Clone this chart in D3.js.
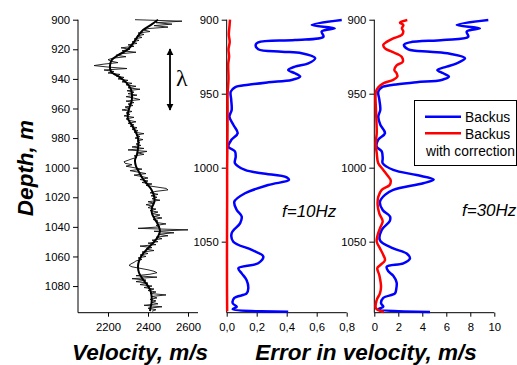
<!DOCTYPE html>
<html><head><meta charset="utf-8">
<script src="https://cdn.jsdelivr.net/npm/d3@7"></script>
<style>body{margin:0;background:#fff}svg{display:block}</style>
</head><body>
<script>
// ---------- data ----------
const depthDomain = [900, 1098];
const leftDepthTicks = [900,920,940,960,980,1000,1020,1040,1060,1080];
const errDepthTicks = [900,950,1000,1050];
const velTicks = [2200,2400,2600];
const err10Ticks = [0,0.2,0.4,0.6,0.8];
const err30Ticks = [0,2,4,6,8,10];

// raw velocity log, one sample per metre from 900 m
const rawVelocity = [
2335,2570,2440,2520,2430,2500,2400,2380,2410,2350,2380,2345,2370,2330,2355,2320,2345,2300,2330,2265,
2310,2270,2340,2265,2240,2290,2225,2200,2215,2250,2180,2130,2200,2295,2180,2230,2200,2260,2240,2280,
2250,2300,2270,2320,2290,2340,2300,2360,2295,2330,2300,2345,2290,2330,2360,2290,2330,2300,2325,2285,
2310,2270,2320,2290,2310,2280,2330,2290,2305,2340,2300,2330,2310,2345,2320,2350,2330,2380,2340,2360,
2335,2375,2345,2360,2340,2365,2320,2380,2300,2395,2350,2380,2330,2345,2320,2300,2280,2285,2320,2290,
2330,2370,2310,2350,2390,2330,2370,2400,2360,2400,2370,2420,2390,2440,2490,2500,2440,2410,2450,2415,
2445,2420,2460,2400,2430,2390,2420,2400,2440,2410,2450,2420,2460,2430,2470,2425,2450,2440,2490,2440,
2460,2350,2600,2430,2530,2450,2500,2440,2470,2420,2450,2400,2440,2360,2420,2390,2430,2370,2400,2360,
2390,2350,2370,2340,2330,2315,2305,2320,2360,2400,2430,2445,2410,2340,2445,2320,2390,2340,2400,2360,
2420,2380,2430,2400,2440,2410,2490,2420,2445,2410,2440,2420,2450,2380,2470,2400,2440,2420];
const rawDepth = d3.range(900, 900 + rawVelocity.length);

const smoothDepth = [900,903,907,911,915,920,924,927,931,935,939,943,947,951,955,959,963,967,971,975,979,983,987,991,995,999,1003,1007,1011,1015,1019,1023,1027,1031,1035,1039,1043,1047,1051,1055,1059,1063,1067,1071,1075,1079,1083,1087,1091,1095,1097];
const smoothVelocity = [2450,2420,2375,2350,2330,2300,2250,2220,2210,2215,2260,2295,2315,2320,2318,2308,2300,2300,2318,2335,2348,2352,2350,2345,2335,2340,2355,2372,2395,2418,2430,2432,2420,2420,2435,2452,2460,2448,2425,2395,2370,2355,2350,2355,2372,2395,2412,2418,2418,2412,2410];

// f = 10 Hz
const e10Depth = [900.2,903.6,905.8,908,911.5,913.7,915.3,917,920,921.6,922.7,926,929.5,931.7,934,936.2,938.5,940.7,942.3,944,945.7,948.6,954,961,965.5,971,976.7,981,985.8,989,992.6,997,1001.5,1003.8,1006.5,1008.3,1011.7,1017.3,1023,1028.6,1033,1037.6,1044.3,1050,1055.6,1060,1064.6,1068,1071.4,1076,1081.5,1085,1088,1091.6,1094,1095.6,1097.4];
const e10Backus = [0.767,0.567,0.72,0.633,0.645,0.455,0.21,0.193,0.21,0.367,0.5,0.59,0.544,0.455,0.41,0.455,0.49,0.433,0.277,0.144,0.055,0.027,0.03,0.033,0.018,0.044,0.073,0.033,0.011,0.055,0.06,0.055,0.122,0.233,0.40,0.415,0.277,0.122,0.051,0.067,0.1,0.089,0.033,0.044,0.167,0.244,0.21,0.078,0.1,0.133,0.144,0.133,0.051,0.04,0.067,0.04,0.41];
const e10CorrDepth = [900,905,910,915,920,925,930,940,950,960,980,1000,1020,1050,1080,1097];
const e10Corr = [0.022,0.018,0.014,0.02,0.012,0.016,0.01,0.012,0.006,0.006,0.005,0.003,0.003,0.002,0.002,0.003];

// f = 30 Hz
const e30Depth = [900.2,903.6,905.8,908,911.5,913.7,915.3,917,920,921.6,923,926,929.5,931.7,934,936.2,938.5,940.7,942.3,944,945.7,948.6,954,961,965.5,971,976.7,981,985.8,989,993.7,997,1001.5,1005,1008,1010.5,1015,1018.4,1023,1028.6,1033,1036.2,1042,1049,1054.5,1058,1061.4,1064.6,1067,1070,1073,1077.6,1082,1085,1088,1091.6,1094,1095.7,1097.5];
const e30Backus = [9.5,6.87,8.8,7.7,7.83,5.75,2.97,2.47,2.83,4.64,6.3,7.56,6.87,6.03,5.25,5.75,6.22,5.61,3.53,1.58,0.62,0.33,0.42,0.5,0.33,0.5,0.89,0.33,0.2,0.62,0.7,0.7,1.58,3.53,4.95,4.08,1.58,0.89,0.47,0.7,1.31,1.28,0.62,0.47,1.58,2.7,2.97,2.42,1.03,1.17,1.58,1.86,1.83,1.72,0.75,0.56,0.75,0.33,4.64];
const e30CorrDepth = [900.2,902,903.6,905.8,908,910.3,912.6,915,917,919.4,921.6,925,928.6,930.8,934,936.2,938.5,940.7,943,945.7,948.6,952,961,976.7,983.5,990,997,1001.5,1006,1008.3,1011.7,1015,1019.7,1025.3,1031,1036.2,1041,1045.5,1050,1054.5,1059,1062.5,1066,1068,1072.7,1080.6,1085,1089.4,1095,1097.5];
const e30Corr = [2.75,2.14,2.42,2.3,2.42,2.3,1.58,1.03,0.75,0.89,1.45,2.28,2.36,1.86,1.67,1.86,1.92,1.58,0.75,0.33,0.14,0.1,0.14,0.2,0.12,0.2,0.33,0.75,1.17,1.36,1.28,0.62,0.33,0.28,0.42,0.7,0.47,0.28,0.2,0.47,0.75,0.89,0.47,0.25,0.42,0.56,0.47,0.2,0.14,0.8];

const legendLabels = ["Backus", "Backus", "with correction"];

// ---------- drawing ----------
const W = 517, H = 365;
const svg = d3.select("body").append("svg").attr("width", W).attr("height", H)
  .style("font-family", "'Liberation Sans', Arial, sans-serif");

const y = d3.scaleLinear().domain(depthDomain).range([19.7, 312.7]);
const yBottom = 312.7;

const xVel = d3.scaleLinear().domain([2050, 2650]).range([78, 198]);
const x10 = d3.scaleLinear().domain([0, 0.8]).range([226.7, 346.7]);
const x30 = d3.scaleLinear().domain([0, 10]).range([374.3, 494.3]);

function yAxis(x0, majors, minors) {
  const g = svg.append("g").attr("transform", `translate(${x0},0)`);
  g.call(d3.axisLeft(y).tickValues(minors).tickSize(3).tickFormat(""));
  g.call(d3.axisLeft(y).tickValues(majors).tickSize(5).tickPadding(3).tickFormat(d3.format("d")));
  g.selectAll("path.domain").remove();
  g.append("line").attr("x1", 0).attr("x2", 0).attr("y1", y(900)).attr("y2", yBottom).attr("stroke", "#000");
  g.selectAll("text").attr("font-size", 11.3).attr("fill", "#000").style("font-family", "'Liberation Sans', Arial, sans-serif");
  g.selectAll(".tick line").attr("stroke", "#000");
}
function xAxis(sc, majors, minors, fmt) {
  const g = svg.append("g").attr("transform", `translate(0,${yBottom})`);
  g.call(d3.axisBottom(sc).tickValues(minors).tickSize(2.5).tickFormat(""));
  g.call(d3.axisBottom(sc).tickValues(majors).tickSize(4).tickPadding(6).tickFormat(fmt));
  g.selectAll("path.domain").remove();
  const r = sc.range();
  g.append("line").attr("x1", r[0]).attr("x2", r[1]).attr("y1", 0).attr("y2", 0).attr("stroke", "#000");
  g.selectAll("text").attr("font-size", 11.3).attr("fill", "#000").style("font-family", "'Liberation Sans', Arial, sans-serif");
  g.selectAll(".tick line").attr("stroke", "#000");
}

const comma = d => d3.format(".1f")(d).replace(".", ",");

// left panel
yAxis(78, leftDepthTicks, d3.range(910, 1091, 20));
xAxis(xVel, velTicks, [2100, 2300, 2500], d3.format("d"));
// middle
yAxis(226.7, errDepthTicks, [925, 975, 1025, 1075]);
xAxis(x10, err10Ticks, [0.1, 0.3, 0.5, 0.7], comma);
// right
yAxis(374.3, errDepthTicks, [925, 975, 1025, 1075]);
xAxis(x30, err30Ticks, [1, 3, 5, 7, 9], d3.format("d"));

// curves
const rawLine = d3.line().x((d, i) => xVel(rawVelocity[i])).y((d) => y(d));
svg.append("path").attr("d", rawLine(rawDepth)).attr("fill", "none").attr("stroke", "#111").attr("stroke-width", 0.9);
const smLine = d3.line().curve(d3.curveCatmullRom).x((d, i) => xVel(smoothVelocity[i])).y(d => y(d));
svg.append("path").attr("d", smLine(smoothDepth)).attr("fill", "none").attr("stroke", "#000").attr("stroke-width", 2);

function errLine(sc, depths, vals, color) {
  const l = d3.line().curve(d3.curveCatmullRom).x((d, i) => sc(vals[i])).y(d => y(d));
  svg.append("path").attr("d", l(depths)).attr("fill", "none").attr("stroke", color)
    .attr("stroke-width", 2.5).attr("stroke-linejoin", "round");
}
errLine(x10, e10Depth, e10Backus, "#0000ff");
errLine(x10, e10CorrDepth, e10Corr, "#ff0000");
errLine(x30, e30Depth, e30Backus, "#0000ff");
errLine(x30, e30CorrDepth, e30Corr, "#ff0000");

// lambda arrow
const defs = svg.append("defs");
defs.append("marker").attr("id", "ah").attr("viewBox", "0 0 10 10").attr("refX", 9).attr("refY", 5)
  .attr("markerWidth", 4).attr("markerHeight", 4).attr("orient", "auto-start-reverse").attr("markerUnits", "strokeWidth")
  .append("path").attr("d", "M0,0 L10,5 L0,10 z").attr("fill", "#000");
svg.append("line").attr("x1", 170).attr("x2", 170).attr("y1", 49).attr("y2", 110)
  .attr("stroke", "#000").attr("stroke-width", 1.8)
  .attr("marker-start", "url(#ah)").attr("marker-end", "url(#ah)");
svg.append("text").attr("x", 176).attr("y", 86).attr("font-size", 24)
  .style("font-family", "'Liberation Serif', 'Times New Roman', serif").text("λ");

// annotations
svg.append("text").attr("x", 282).attr("y", 217).attr("font-size", 17).attr("font-style", "italic").text("f=10Hz");
svg.append("text").attr("x", 462).attr("y", 216).attr("font-size", 17).attr("font-style", "italic").text("f=30Hz");

// legend
const lg = svg.append("g");
lg.append("rect").attr("x", 414.5).attr("y", 100.5).attr("width", 102).attr("height", 65)
  .attr("fill", "#fff").attr("stroke", "#000").attr("stroke-width", 1);
lg.append("line").attr("x1", 425).attr("x2", 461).attr("y1", 116.7).attr("y2", 116.7).attr("stroke", "#0000ff").attr("stroke-width", 2.5);
lg.append("line").attr("x1", 425).attr("x2", 461).attr("y1", 133.3).attr("y2", 133.3).attr("stroke", "#ff0000").attr("stroke-width", 2.5);
lg.append("text").attr("x", 465).attr("y", 121.5).attr("font-size", 13.8).text(legendLabels[0]);
lg.append("text").attr("x", 465).attr("y", 138.5).attr("font-size", 13.8).text(legendLabels[1]);
lg.append("text").attr("x", 426).attr("y", 155.5).attr("font-size", 13.8).text(legendLabels[2]);

// axis titles
const titleStyle = t => t.attr("font-size", 22.5).attr("font-weight", "bold").attr("font-style", "italic")
  .style("font-family", "'Liberation Sans', Arial, sans-serif");
svg.append("text").attr("transform", "translate(33,168) rotate(-90)").attr("text-anchor", "middle").call(titleStyle).text("Depth, m");
svg.append("text").attr("x", 140).attr("y", 360).attr("text-anchor", "middle").call(titleStyle).text("Velocity, m/s");
svg.append("text").attr("x", 366).attr("y", 360).attr("text-anchor", "middle").call(titleStyle).text("Error in velocity, m/s");
</script>
</body></html>
